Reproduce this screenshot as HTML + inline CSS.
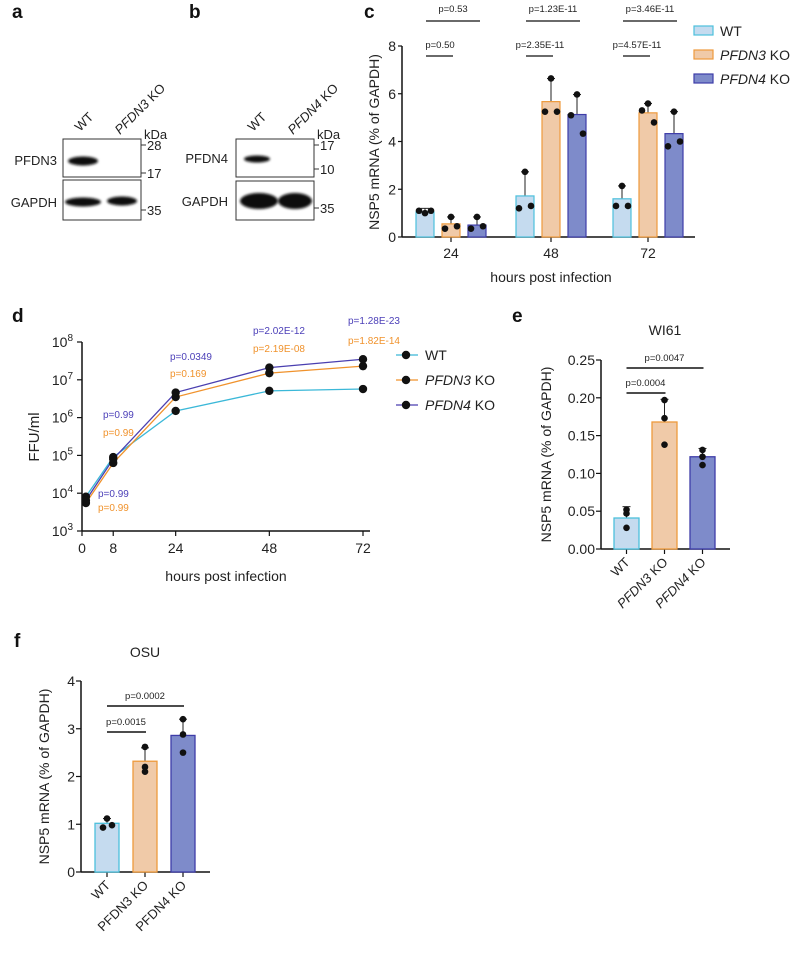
<!DOCTYPE html>
<html><head><meta charset="utf-8"><style>
body{margin:0;background:#fff}
svg{font-family:"Liberation Sans",Arial,sans-serif}
</style></head><body>
<svg id="fig" width="800" height="950" viewBox="0 0 800 950" xmlns="http://www.w3.org/2000/svg">
<defs><filter id="bl" x="-20%" y="-50%" width="140%" height="200%"><feGaussianBlur stdDeviation="1.2"/></filter></defs>
<g font-weight="bold" font-size="19" fill="#111">
<text x="12" y="18">a</text><text x="189" y="18">b</text><text x="364" y="18">c</text>
<text x="12" y="322">d</text><text x="512" y="322">e</text><text x="14" y="647">f</text>
</g>
<g font-size="13" fill="#222">
<text x="80" y="132" transform="rotate(-45 80 132)">WT</text>
<text x="120" y="135" transform="rotate(-45 120 135)"><tspan font-style="italic">PFDN3</tspan> KO</text>
<text x="144" y="139">kDa</text>
<rect x="63" y="139" width="78" height="38" fill="#fff" stroke="#333" stroke-width="1"/>
<rect x="63" y="180" width="78" height="40" fill="#fff" stroke="#333" stroke-width="1"/>
<ellipse cx="83" cy="161" rx="15" ry="4.5" fill="#111" filter="url(#bl)"/>
<ellipse cx="83" cy="202" rx="18" ry="4.5" fill="#111" filter="url(#bl)"/>
<ellipse cx="122" cy="201" rx="15" ry="4.5" fill="#111" filter="url(#bl)"/>
<text x="57" y="165" text-anchor="end">PFDN3</text>
<text x="57" y="207" text-anchor="end">GAPDH</text>
<g stroke="#333"><line x1="141" y1="145" x2="146" y2="145"/><line x1="141" y1="173" x2="146" y2="173"/><line x1="141" y1="210" x2="146" y2="210"/></g>
<text x="147" y="150">28</text><text x="147" y="178">17</text><text x="147" y="215">35</text>
</g>
<g font-size="13" fill="#222">
<text x="253" y="132" transform="rotate(-45 253 132)">WT</text>
<text x="293" y="135" transform="rotate(-45 293 135)"><tspan font-style="italic">PFDN4</tspan> KO</text>
<text x="317" y="139">kDa</text>
<rect x="236" y="139" width="78" height="38" fill="#fff" stroke="#333"/>
<rect x="236" y="181" width="78" height="39" fill="#fff" stroke="#333"/>
<ellipse cx="257" cy="159" rx="13" ry="3.5" fill="#111" filter="url(#bl)"/>
<ellipse cx="259" cy="201" rx="19" ry="8" fill="#0a0a0a" filter="url(#bl)"/>
<ellipse cx="295" cy="201" rx="17" ry="8" fill="#0a0a0a" filter="url(#bl)"/>
<text x="228" y="163" text-anchor="end">PFDN4</text>
<text x="228" y="206" text-anchor="end">GAPDH</text>
<g stroke="#333"><line x1="314" y1="145" x2="319" y2="145"/><line x1="314" y1="169" x2="319" y2="169"/><line x1="314" y1="208" x2="319" y2="208"/></g>
<text x="320" y="150">17</text><text x="320" y="174">10</text><text x="320" y="213">35</text>
</g>
<g id="pc"></g>
<g id="pd"></g>
<g id="pe"></g>
<g id="pf"></g>
</svg>
<script>
// ---- Panel c data ----
const cGroups = ["24", "48", "72"];
const cYTicks = [0, 2, 4, 6, 8];
const cWT = [1.05, 1.72, 1.6];
const cP3 = [0.55, 5.67, 5.2];
const cP4 = [0.5, 5.13, 4.33];
const cWTerr = [1.2, 2.73, 2.14];
const cP3err = [0.84, 6.64, 5.59];
const cP4err = [0.84, 5.97, 5.25];
const cWTpts = [[1.0, 1.1, 1.1], [2.73, 1.2, 1.3], [2.14, 1.3, 1.3]];
const cP3pts = [[0.84, 0.35, 0.45], [6.64, 5.25, 5.25], [5.59, 5.3, 4.8]];
const cP4pts = [[0.84, 0.35, 0.45], [5.97, 5.1, 4.33], [5.25, 3.8, 4.0]];
const cPtop = ["p=0.53", "p=1.23E-11", "p=3.46E-11"];
const cPlow = ["p=0.50", "p=2.35E-11", "p=4.57E-11"];
// ---- Panel d data ----
const dTimes = [1, 8, 24, 48, 72];
const dXTicks = [0, 8, 24, 48, 72];
const dYExp = [3, 4, 5, 6, 7, 8];
const dWT = [8.1e3, 9e4, 1.5e6, 5.1e6, 5.7e6];
const dP3 = [5.5e3, 6.3e4, 3.5e6, 1.5e7, 2.3e7];
const dP4 = [6.5e3, 8e4, 4.6e6, 2.1e7, 3.5e7];
const dP4labels = ["p=0.99", "p=0.99", "p=0.0349", "p=2.02E-12", "p=1.28E-23"];
const dP3labels = ["p=0.99", "p=0.99", "p=0.169", "p=2.19E-08", "p=1.82E-14"];
// ---- Panel e data ----
const eCats = ["WT", "PFDN3", "PFDN4"];
const eYTicks = [0, 0.05, 0.10, 0.15, 0.20, 0.25];
const eMeans = [0.041, 0.168, 0.122];
const eErr = [0.056, 0.198, 0.133];
const ePts = [[0.052, 0.047, 0.028], [0.197, 0.173, 0.138], [0.131, 0.122, 0.111]];
const ePvals = ["p=0.0004", "p=0.0047"];
// ---- Panel f data ----
const fCats = ["WT", "PFDN3", "PFDN4"];
const fYTicks = [0, 1, 2, 3, 4];
const fMeans = [1.02, 2.32, 2.86];
const fErr = [1.12, 2.6, 3.2];
const fPts = [[1.12, 0.93, 0.98], [2.62, 2.2, 2.1], [3.2, 2.88, 2.5]];
const fPvals = ["p=0.0015", "p=0.0002"];

const NS = "http://www.w3.org/2000/svg";
const FILL = ["#c5dbef", "#f0caa8", "#7e8bca"];
const STROKE = ["#4cc0dc", "#ee9a3c", "#3e3ca8"];
const LINE = ["#3bb8d8", "#f0922c", "#4a3fb0"];
function mk(parent, tag, attrs, name) {
  const el = document.createElementNS(NS, tag);
  for (const k in attrs) el.setAttribute(k, attrs[k]);
  
  
  parent.appendChild(el);
  return el;
}
function txt(parent, x, y, s, size, name, extra) {
  const t = mk(parent, 'text', Object.assign({x: x, y: y, 'font-size': size, fill: '#222'}, extra || {}), name);
  t.textContent = s;
  return t;
}
function dot(parent, x, y, name) { mk(parent, 'circle', {cx: x, cy: y, r: 3.3, fill: '#111'}, name); }

// ===== Panel c =====
(function () {
  const g = document.getElementById('pc');
  const x0 = 402, x1 = 695, y0 = 237, y8 = 46;
  const ys = v => y0 - (v / 8) * (y0 - y8);
  const centers = [451, 551, 648];
  const off = [-26, 0, 26], bw = 18;
  mk(g, 'line', {x1: x0, y1: y8, x2: x0, y2: y0, stroke: '#111', 'stroke-width': 1.5}, 'y-axis');
  mk(g, 'line', {x1: x0, y1: y0, x2: x1, y2: y0, stroke: '#111', 'stroke-width': 1.5}, 'x-axis');
  cYTicks.forEach(v => {
    mk(g, 'line', {x1: x0 - 4, y1: ys(v), x2: x0, y2: ys(v), stroke: '#111', 'stroke-width': 1.2}, 'y-tick');
    txt(g, x0 - 6, ys(v) + 5, String(v), 14, 'y-tick-label', {'text-anchor': 'end'});
  });
  const series = [[cWT, cWTerr, cWTpts], [cP3, cP3err, cP3pts], [cP4, cP4err, cP4pts]];
  cGroups.forEach((lab, i) => {
    const cx = centers[i];
    mk(g, 'line', {x1: cx, y1: y0, x2: cx, y2: y0 + 5, stroke: '#111', 'stroke-width': 1.2}, 'x-tick');
    txt(g, cx, y0 + 21, lab, 14, 'x-tick-label', {'text-anchor': 'middle'});
    series.forEach((s, k) => {
      const bx = cx + off[k] - bw / 2;
      mk(g, 'line', {x1: cx + off[k], y1: ys(s[0][i]), x2: cx + off[k], y2: ys(s[1][i]), stroke: '#222', 'stroke-width': 1}, 'error-bar');
      mk(g, 'line', {x1: cx + off[k] - 4, y1: ys(s[1][i]), x2: cx + off[k] + 4, y2: ys(s[1][i]), stroke: '#222', 'stroke-width': 1}, 'error-cap');
      mk(g, 'rect', {x: bx, y: ys(s[0][i]), width: bw, height: y0 - ys(s[0][i]), fill: FILL[k], stroke: STROKE[k], 'stroke-width': 1.2}, 'bar-' + lab + 'h-' + k);
      const dx = [0, -6, 6];
      s[2][i].forEach((v, j) => dot(g, cx + off[k] + dx[j], ys(v), 'data-point'));
    });
    const xl = cx - 25;
    mk(g, 'line', {x1: xl, y1: 21, x2: xl + 54, y2: 21, stroke: '#111', 'stroke-width': 1.3}, 'sig-line-top');
    txt(g, xl + 27, 12, cPtop[i], 9.5, 'p-value-top', {'text-anchor': 'middle'});
    mk(g, 'line', {x1: xl, y1: 56, x2: xl + 27, y2: 56, stroke: '#111', 'stroke-width': 1.3}, 'sig-line-low');
    txt(g, xl + 14, 48, cPlow[i], 9.5, 'p-value-low', {'text-anchor': 'middle'});
  });
  txt(g, 551, 282, 'hours post infection', 14, 'x-axis-title', {'text-anchor': 'middle'});
  txt(g, 0, 0, 'NSP5 mRNA (% of GAPDH)', 14, 'y-axis-title', {'text-anchor': 'middle', transform: 'translate(379,142) rotate(-90)'});
  const legLab = [['', 'WT'], ['PFDN3', ' KO'], ['PFDN4', ' KO']];
  legLab.forEach((l, k) => {
    const y = 26 + k * 24;
    mk(g, 'rect', {x: 694, y: y, width: 19, height: 9, fill: FILL[k], stroke: STROKE[k], 'stroke-width': 1.2}, 'legend-swatch');
    const t = txt(g, 720, y + 10, '', 14, 'legend-entry');
    if (l[0]) { const ts = document.createElementNS(NS, 'tspan'); ts.setAttribute('font-style', 'italic'); ts.textContent = l[0]; t.appendChild(ts); }
    t.appendChild(document.createTextNode(l[1]));
  });
})();

// ===== Panel d =====
(function () {
  const g = document.getElementById('pd');
  const x0 = 82, x1 = 370, yTop = 342, yBot = 531;
  const xs = t => x0 + t * (363 - x0) / 72;
  const ys = v => yBot - (Math.log10(v) - 3) * (yBot - yTop) / 5;
  mk(g, 'line', {x1: x0, y1: yTop, x2: x0, y2: yBot, stroke: '#111', 'stroke-width': 1.5}, 'y-axis');
  mk(g, 'line', {x1: x0, y1: yBot, x2: x1, y2: yBot, stroke: '#111', 'stroke-width': 1.5}, 'x-axis');
  dYExp.forEach(e => {
    const y = ys(Math.pow(10, e));
    mk(g, 'line', {x1: x0 - 5, y1: y, x2: x0, y2: y, stroke: '#111', 'stroke-width': 1.2}, 'y-tick');
    const t = txt(g, x0 - 9, y + 5, '10', 14, 'y-tick-label', {'text-anchor': 'end'});
    const s = document.createElementNS(NS, 'tspan'); s.setAttribute('dy', '-6'); s.setAttribute('font-size', '10'); s.textContent = e; t.appendChild(s);
  });
  dXTicks.forEach(t => {
    mk(g, 'line', {x1: xs(t), y1: yBot, x2: xs(t), y2: yBot + 5, stroke: '#111', 'stroke-width': 1.2}, 'x-tick');
    txt(g, xs(t), yBot + 22, String(t), 14, 'x-tick-label', {'text-anchor': 'middle'});
  });
  [dWT, dP3, dP4].forEach((s, k) => {
    const pts = dTimes.map((t, i) => xs(t) + ',' + ys(s[i])).join(' ');
    mk(g, 'polyline', {points: pts, fill: 'none', stroke: LINE[k], 'stroke-width': 1.3}, 'series-line-' + k);
  });
  [dWT, dP3, dP4].forEach((s, k) => dTimes.forEach((t, i) => mk(g, 'circle', {cx: xs(t), cy: ys(s[i]), r: 4.2, fill: '#111'}, 'series-point-' + k)));
  const p4pos = [[98, 497], [103, 418], [170, 360], [253, 334], [348, 324]];
  const p3pos = [[98, 511], [103, 436], [170, 377], [253, 352], [348, 344]];
  dTimes.forEach((t, i) => {
    txt(g, p4pos[i][0], p4pos[i][1], dP4labels[i], 10, 'p-value-pfdn4', {fill: '#4b3fb8'});
    txt(g, p3pos[i][0], p3pos[i][1], dP3labels[i], 10, 'p-value-pfdn3', {fill: '#f0922c'});
  });
  txt(g, 226, 581, 'hours post infection', 14, 'x-axis-title', {'text-anchor': 'middle'});
  txt(g, 0, 0, 'FFU/ml', 15, 'y-axis-title', {'text-anchor': 'middle', transform: 'translate(39,437) rotate(-90)'});
  const legLab = [['', 'WT'], ['PFDN3', ' KO'], ['PFDN4', ' KO']];
  legLab.forEach((l, k) => {
    const y = 355 + k * 25;
    mk(g, 'line', {x1: 396, y1: y, x2: 418, y2: y, stroke: LINE[k], 'stroke-width': 1.3}, 'legend-line');
    mk(g, 'circle', {cx: 406, cy: y, r: 4.2, fill: '#111'}, 'legend-marker');
    const t = txt(g, 425, y + 5, '', 14, 'legend-entry');
    if (l[0]) { const ts = document.createElementNS(NS, 'tspan'); ts.setAttribute('font-style', 'italic'); ts.textContent = l[0]; t.appendChild(ts); }
    t.appendChild(document.createTextNode(l[1]));
  });
})();

// ===== bar panels e/f =====
function barPanel(g, cfg) {
  const {x0, x1, yTop, yBot, vmax, cats, ticks, means, err, pts, pv, centers, bw, title, tx, ty, italic, dec, axX, sig, jit} = cfg;
  const ys = v => yBot - v / vmax * (yBot - yTop);
  mk(g, 'line', {x1: x0, y1: yTop, x2: x0, y2: yBot, stroke: '#111', 'stroke-width': 1.5}, 'y-axis');
  mk(g, 'line', {x1: x0, y1: yBot, x2: x1, y2: yBot, stroke: '#111', 'stroke-width': 1.5}, 'x-axis');
  ticks.forEach(v => {
    mk(g, 'line', {x1: x0 - 5, y1: ys(v), x2: x0, y2: ys(v), stroke: '#111', 'stroke-width': 1.2}, 'y-tick');
    txt(g, x0 - 6, ys(v) + 5, v.toFixed(dec), 14, 'y-tick-label', {'text-anchor': 'end'});
  });
  txt(g, tx, ty, title, 14, 'chart-title', {'text-anchor': 'middle'});
  cats.forEach((c, i) => {
    const cx = centers[i];
    mk(g, 'line', {x1: cx, y1: yBot, x2: cx, y2: yBot + 5, stroke: '#111', 'stroke-width': 1.2}, 'x-tick');
    mk(g, 'line', {x1: cx, y1: ys(means[i]), x2: cx, y2: ys(err[i]), stroke: '#222', 'stroke-width': 1}, 'error-bar');
    mk(g, 'line', {x1: cx - 4, y1: ys(err[i]), x2: cx + 4, y2: ys(err[i]), stroke: '#222', 'stroke-width': 1}, 'error-cap');
    mk(g, 'rect', {x: cx - bw / 2, y: ys(means[i]), width: bw, height: yBot - ys(means[i]), fill: FILL[i], stroke: STROKE[i], 'stroke-width': 1.3}, 'bar-' + c.toLowerCase());
    pts[i].forEach((v, j) => dot(g, cx + jit[i][j], ys(v), 'data-point'));
    const lx = cx + 4, ly = yBot + 14;
    const t = txt(g, lx, ly, '', 13, 'x-tick-label', {'text-anchor': 'end', transform: 'rotate(-45 ' + lx + ' ' + ly + ')'});
    if (c === 'WT') t.textContent = 'WT';
    else { const ts = document.createElementNS(NS, 'tspan'); if (italic) ts.setAttribute('font-style', 'italic'); ts.textContent = c; t.appendChild(ts); t.appendChild(document.createTextNode(' KO')); }
  });
  sig.forEach((s, k) => {
    mk(g, 'line', {x1: centers[0], y1: s.y, x2: centers[s.to] + 1, y2: s.y, stroke: '#111', 'stroke-width': 1.4}, 'sig-line');
    txt(g, (centers[0] + centers[s.to]) / 2, s.y - 7, pv[k], 9.5, 'p-value', {'text-anchor': 'middle'});
  });
  txt(g, 0, 0, 'NSP5 mRNA (% of GAPDH)', 14, 'y-axis-title', {'text-anchor': 'middle', transform: 'translate(' + axX + ',' + ((yTop + yBot) / 2) + ') rotate(-90)'});
}
barPanel(document.getElementById('pe'), {x0: 601, x1: 730, yTop: 360, yBot: 549, vmax: 0.25, cats: eCats, ticks: eYTicks, means: eMeans, err: eErr, pts: ePts, pv: ePvals, centers: [626.5, 664.5, 702.5], bw: 25, title: 'WI61', tx: 665, ty: 335, italic: true, dec: 2, axX: 551, sig: [{y: 393, to: 1}, {y: 368, to: 2}], jit: [[0, 0, 0], [0, 0, 0], [0, 0, 0]]});
barPanel(document.getElementById('pf'), {x0: 81, x1: 210, yTop: 681, yBot: 872, vmax: 4, cats: fCats, ticks: fYTicks, means: fMeans, err: fErr, pts: fPts, pv: fPvals, centers: [107, 145, 183], bw: 24, title: 'OSU', tx: 145, ty: 657, italic: false, dec: 0, axX: 49, sig: [{y: 732, to: 1}, {y: 706, to: 2}], jit: [[0, -4, 5], [0, 0, 0], [0, 0, 0]]});
</script>
</body></html>
